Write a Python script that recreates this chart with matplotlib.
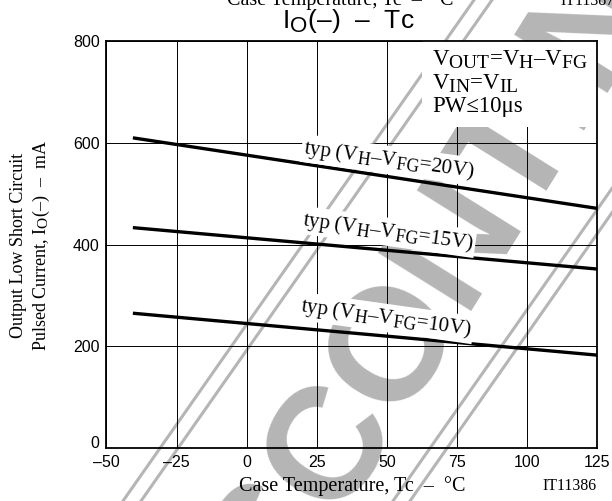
import matplotlib
matplotlib.use("Agg")
import matplotlib.pyplot as plt
from matplotlib.lines import Line2D
try:
    import matplotlib._mathtext as _mt
    _mt.SHRINK_FACTOR = 0.85
except Exception:
    pass

plt.rcParams['mathtext.fontset'] = 'custom'
plt.rcParams['mathtext.rm'] = 'Liberation Serif'
plt.rcParams['mathtext.it'] = 'Liberation Serif:italic'
plt.rcParams['mathtext.sf'] = 'Liberation Sans'

temps = [-40, 125]
io_20v = [609, 471]
io_15v = [433, 352]
io_10v = [265, 183]
series_labels = [r"typ ($\mathrm{V_H}$–$\mathrm{V_{FG}}$=20V)",
                 r"typ ($\mathrm{V_H}$–$\mathrm{V_{FG}}$=15V)",
                 r"typ ($\mathrm{V_H}$–$\mathrm{V_{FG}}$=10V)"]
x_ticks = [-50, -25, 0, 25, 50, 75, 100, 125]
y_ticks = [0, 200, 400, 600, 800]

W, H = 612, 501
fig = plt.figure(figsize=(6.12, 5.01), dpi=100)
ax = fig.add_axes([0.174, 0.105, 0.802, 0.8136])
ax.patch.set_visible(False)
ax.set_xlim(-50, 125)
ax.set_ylim(0, 800)
ax.set_xticks(x_ticks)
ax.set_yticks(y_ticks)
ax.set_xticklabels([str(t).replace("-", "–") for t in x_ticks],
                   family='Liberation Sans', fontsize=11.5)
ylabels = ax.set_yticklabels([str(t) for t in y_ticks], family='Liberation Sans', fontsize=11.5)
ylabels[0].set_va('baseline')
ax.tick_params(length=0, pad=5)
ax.grid(True, color='black', linewidth=0.7)
ax.set_axisbelow(True)
for s in ax.spines.values():
    s.set_linewidth(1.3)

# watermark (background decoration)
wm_gray = '#b5b5b5'
fig.text(193.6 / W, -237.6 / H, "DISCONTINUED", family='Liberation Sans',
         weight='bold', fontsize=115, color=wm_gray, rotation=58,
         rotation_mode='anchor', ha='left', va='baseline', zorder=-2)
for (x0, x1) in [(123, 474), (141, 492), (393, 744), (410, 761)]:
    fig.add_artist(Line2D([x0 / W, x1 / W], [0, 1], transform=fig.transFigure,
                          color=wm_gray, linewidth=2.2, zorder=-1))

for vals in (io_20v, io_15v, io_10v):
    ax.plot(temps, vals, color='black', linewidth=2.4, zorder=3)

label_pos = [(50.7, 566), (50.4, 425), (49.7, 256)]
for (lx, ly), lab in zip(label_pos, series_labels):
    ax.text(lx, ly, lab, family='Liberation Serif', fontsize=15, rotation=-8,
            ha='center', va='center', zorder=4,
            bbox=dict(facecolor='white', edgecolor='none', pad=1.5))

ax.text(66.1, 784, r"$\mathrm{V_{OUT}}$=$\mathrm{V_H}$–$\mathrm{V_{FG}}$" + "\n" +
        r"$\mathrm{V_{IN}}$=$\mathrm{V_{IL}}$" + "\n" + "PW≤10μs",
        family='Liberation Serif', fontsize=16.5, ha='left', va='top',
        linespacing=1.08, zorder=2.4, clip_on=True,
        bbox=dict(facecolor='white', edgecolor='none', pad=7))

fig.text(282 / W, 0.958, r"$\mathsf{I_O}$(–)  –  Tc", family='Liberation Sans',
         fontsize=19, ha='left', va='center')
fig.text(340 / W, 0.991, "Case Temperature, Tc  –  °C", family='Liberation Serif',
         fontsize=14.5, ha='center', va='baseline')
fig.text(560 / W, 0.991, "IT11387", family='Liberation Serif', fontsize=11.5,
         ha='left', va='baseline')

fig.text(352 / W, 0.03, "Case Temperature, Tc  –  °C", family='Liberation Serif',
         fontsize=14.5, ha='center', va='center')
fig.text(570 / W, 0.03, "IT11386", family='Liberation Serif', fontsize=11.5,
         ha='center', va='center')

fig.text(0.031, 0.511, "Output Low Short Circuit", family='Liberation Serif',
         fontsize=13, rotation=90, ha='center', va='center')
fig.text(0.068, 0.511, r"Pulsed Current, $\mathrm{I_O}$(–)  –  mA", family='Liberation Serif',
         fontsize=13, rotation=90, ha='center', va='center')

fig.savefig("out.png", dpi=100)
